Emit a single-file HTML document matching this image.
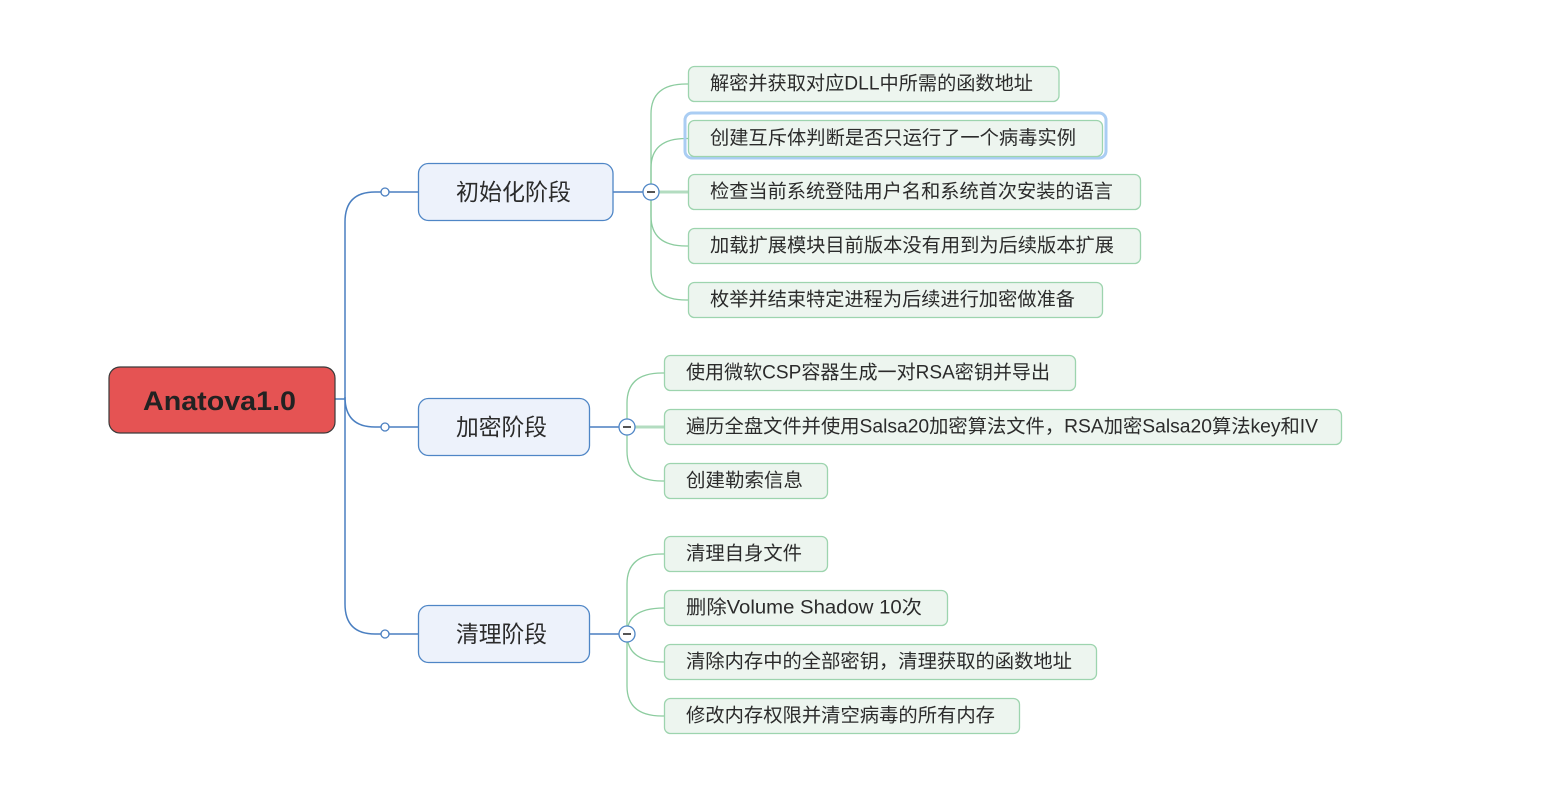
<!DOCTYPE html>
<html><head><meta charset="utf-8">
<style>
html,body{margin:0;padding:0;background:#fff;}
svg{display:block;}
text{font-family:"Liberation Sans","Noto Sans CJK SC",sans-serif;fill:#2b2b2b;}
</style></head>
<body>
<svg width="1544" height="793" viewBox="0 0 1544 793" xmlns="http://www.w3.org/2000/svg">
<rect width="1544" height="793" fill="#fff"/>

<!-- main blue connectors -->
<g fill="none" stroke="#4a7fc1" stroke-width="1.5">
  <path d="M335,399 L345,399"/>
  <path d="M345,420 L345,222 Q345,192 375,192 L381,192"/>
  <path d="M345,397 Q345,427 375,427 L381,427"/>
  <path d="M345,420 L345,604 Q345,634 375,634 L381,634"/>
  <path d="M389,192 L418,192"/>
  <path d="M389,427 L418,427"/>
  <path d="M389,634 L418,634"/>
  <path d="M613,192 L643,192"/>
  <path d="M590,427 L619,427"/>
  <path d="M590,634 L619,634"/>
</g>
<g fill="#fff" stroke="#4a7fc1" stroke-width="1.3">
  <circle cx="385" cy="192" r="4"/>
  <circle cx="385" cy="427" r="4"/>
  <circle cx="385" cy="634" r="4"/>
</g>

<!-- green connectors -->
<g fill="none" stroke="#8ccc9f" stroke-width="1.3">
  <!-- init -->
  <path d="M651,192 L651,114 Q651,84 686,84 L688,84"/>
  <path d="M651,192 L651,168 Q651,138.5 686,138.5 L688,138.5"/>
  <path d="M651,192 L651,216 Q651,246 686,246 L688,246"/>
  <path d="M651,192 L651,270 Q651,300 686,300 L688,300"/>
  <!-- encrypt -->
  <path d="M627,427 L627,403 Q627,373 662,373 L665,373"/>
  <path d="M627,427 L627,451 Q627,481 662,481 L665,481"/>
  <!-- clean -->
  <path d="M627,634 L627,584 Q627,554 662,554 L664,554"/>
  <path d="M627,634 Q627,608 664,608"/>
  <path d="M627,634 Q627,662 664,662"/>
  <path d="M627,634 L627,686 Q627,716 662,716 L664,716"/>
</g>
<g stroke="#b3dcc0" stroke-width="3">
  <path d="M659,192 L688,192"/>
  <path d="M635,427 L665,427"/>
</g>

<!-- central node -->
<rect x="109" y="367" width="226" height="66" rx="11" fill="#e55353" stroke="#3a3a3a" stroke-width="1.2"/>
<text x="143" y="401" dominant-baseline="central" font-size="27" font-weight="bold" fill="#222" style="fill:#222" textLength="153" lengthAdjust="spacingAndGlyphs">Anatova1.0</text>

<!-- phase nodes -->
<g fill="#edf2fb" stroke="#4f86c6" stroke-width="1.3">
  <rect x="418.5" y="163.5" width="194.5" height="57" rx="10"/>
  <rect x="418.5" y="398.5" width="171" height="57" rx="10"/>
  <rect x="418.5" y="605.5" width="171" height="57" rx="10"/>
</g>
<text x="456" y="192" dominant-baseline="central" font-size="23" textLength="115" lengthAdjust="spacingAndGlyphs">初始化阶段</text>
<text x="456" y="427" dominant-baseline="central" font-size="23" textLength="91" lengthAdjust="spacingAndGlyphs">加密阶段</text>
<text x="456" y="634" dominant-baseline="central" font-size="23" textLength="91" lengthAdjust="spacingAndGlyphs">清理阶段</text>

<!-- collapse circles -->
<g>
  <circle cx="651" cy="192" r="8" fill="#fff" stroke="#4f86c6" stroke-width="1.3"/>
  <path d="M647,192 L655,192" stroke="#555" stroke-width="2"/>
  <circle cx="627" cy="427" r="8" fill="#fff" stroke="#4f86c6" stroke-width="1.3"/>
  <path d="M623,427 L631,427" stroke="#555" stroke-width="2"/>
  <circle cx="627" cy="634" r="8" fill="#fff" stroke="#4f86c6" stroke-width="1.3"/>
  <path d="M623,634 L631,634" stroke="#555" stroke-width="2"/>
</g>

<!-- highlight around box 2 -->
<rect x="685" y="113" width="421" height="45" rx="7" fill="none" stroke="#aacdf3" stroke-width="3"/>

<!-- child boxes -->
<g fill="#edf5ef" stroke="#9dd4ae" stroke-width="1.3">
  <rect x="688.5" y="66.5" width="370.5" height="35" rx="6"/>
  <rect x="688.5" y="120.5" width="414" height="36" rx="6"/>
  <rect x="688.5" y="174.5" width="452" height="35" rx="6"/>
  <rect x="688.5" y="228.5" width="452" height="35" rx="6"/>
  <rect x="688.5" y="282.5" width="414" height="35" rx="6"/>

  <rect x="664.5" y="355.5" width="411" height="35" rx="6"/>
  <rect x="664.5" y="409.5" width="677" height="35" rx="6"/>
  <rect x="664.5" y="463.5" width="163" height="35" rx="6"/>

  <rect x="664.5" y="536.5" width="163" height="35" rx="6"/>
  <rect x="664.5" y="590.5" width="283" height="35" rx="6"/>
  <rect x="664.5" y="644.5" width="432" height="35" rx="6"/>
  <rect x="664.5" y="698.5" width="355" height="35" rx="6"/>
</g>

<g font-size="19" dominant-baseline="central">
  <text x="710" y="84" dominant-baseline="central" textLength="323" lengthAdjust="spacingAndGlyphs">解密并获取对应DLL中所需的函数地址</text>
  <text x="710" y="138.5" dominant-baseline="central" textLength="366" lengthAdjust="spacingAndGlyphs">创建互斥体判断是否只运行了一个病毒实例</text>
  <text x="710" y="192" dominant-baseline="central" textLength="403" lengthAdjust="spacingAndGlyphs">检查当前系统登陆用户名和系统首次安装的语言</text>
  <text x="710" y="246" dominant-baseline="central" textLength="404" lengthAdjust="spacingAndGlyphs">加载扩展模块目前版本没有用到为后续版本扩展</text>
  <text x="710" y="300" dominant-baseline="central" textLength="365" lengthAdjust="spacingAndGlyphs">枚举并结束特定进程为后续进行加密做准备</text>

  <text x="686" y="373" dominant-baseline="central" textLength="364" lengthAdjust="spacingAndGlyphs">使用微软CSP容器生成一对RSA密钥并导出</text>
  <text x="686" y="427" dominant-baseline="central" textLength="632" lengthAdjust="spacingAndGlyphs">遍历全盘文件并使用Salsa20加密算法文件，RSA加密Salsa20算法key和IV</text>
  <text x="686" y="481" dominant-baseline="central" textLength="117" lengthAdjust="spacingAndGlyphs">创建勒索信息</text>

  <text x="686" y="554" dominant-baseline="central" textLength="116" lengthAdjust="spacingAndGlyphs">清理自身文件</text>
  <text x="686" y="608" dominant-baseline="central" textLength="236" lengthAdjust="spacingAndGlyphs">删除Volume Shadow 10次</text>
  <text x="686" y="662" dominant-baseline="central" textLength="386" lengthAdjust="spacingAndGlyphs">清除内存中的全部密钥，清理获取的函数地址</text>
  <text x="686" y="716" dominant-baseline="central" textLength="309" lengthAdjust="spacingAndGlyphs">修改内存权限并清空病毒的所有内存</text>
</g>
</svg>
</body></html>
